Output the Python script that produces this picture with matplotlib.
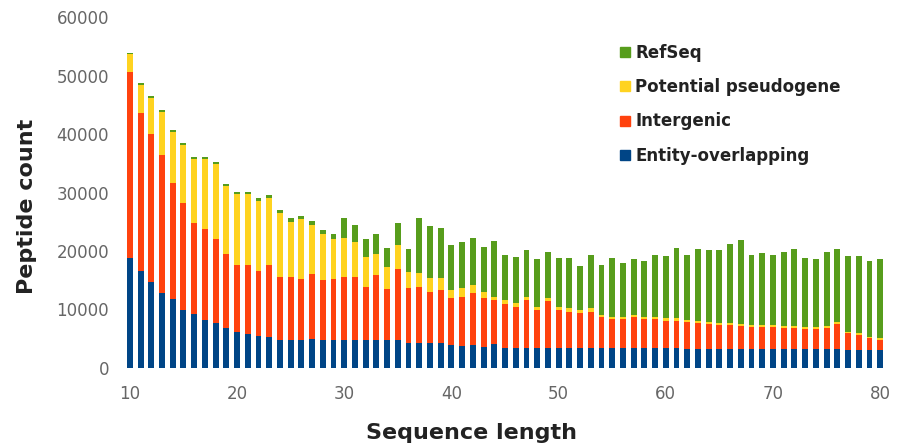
import matplotlib.pyplot as plt
from matplotlib.lines import Line2D
import numpy as np

# data
lengths = np.arange(10, 81)

entity = [18800, 16500, 14750, 12800, 11800, 9900, 9200, 8200, 7700, 6900,
          6200, 5800, 5400, 5300, 4800, 4800, 4800, 4900, 4800, 4800,
          4750, 4750, 4750, 4750, 4750, 4750, 4300, 4300, 4200, 4200,
          3900, 3750, 3900, 3650, 4100, 3350, 3350, 3350, 3350, 3350,
          3350, 3350, 3350, 3350, 3350, 3350, 3350, 3350, 3350, 3350,
          3350, 3350, 3300, 3300, 3300, 3300, 3300, 3300, 3250, 3250,
          3250, 3250, 3200, 3200, 3200, 3200, 3200, 3150, 3100, 3100,
          3100]

intergenic = [31850, 27100, 25250, 23600, 19800, 18300, 15600, 15600, 14300, 12600,
              11400, 11800, 11100, 12300, 10800, 10800, 10350, 11150, 10200, 10350,
              10850, 10850, 9150, 11150, 8700, 12250, 9300, 9600, 8850, 9100,
              8000, 8350, 8850, 8250, 7500, 7600, 7150, 8250, 6550, 8150,
              6550, 6250, 6000, 6250, 5300, 4950, 4950, 5300, 4950, 4950,
              4750, 4750, 4500, 4400, 4250, 4100, 4000, 3850, 3750, 3750,
              3750, 3650, 3700, 3550, 3550, 3700, 4400, 2750, 2500, 1950,
              1700]

pseudogene = [2950, 4800, 6200, 7400, 8800, 9900, 11000, 12000, 12900, 11600,
              12100, 12100, 12000, 11400, 10900, 9400, 10250, 8350, 7900, 6850,
              6550, 6000, 5100, 3600, 3850, 4000, 2850, 2300, 2250, 2000,
              1400, 1500, 1450, 1150, 600, 650, 550, 500, 600, 400,
              600, 600, 550, 600, 400, 450, 450, 400, 450, 450,
              400, 400, 400, 400, 350, 350, 350, 350, 350, 350,
              350, 300, 300, 300, 300, 300, 300, 300, 300, 300,
              250]

refseq = [250, 300, 300, 300, 300, 300, 300, 300, 400, 400,
          400, 400, 500, 500, 500, 600, 600, 700, 700, 900,
          3450, 2800, 3000, 3400, 3150, 3800, 3850, 9400, 9000, 8600,
          7700, 8000, 8100, 7650, 9550, 7700, 7850, 8050, 8100, 8000,
          8250, 8550, 7550, 9100, 8550, 10000, 9250, 9550, 9600, 10550,
          10600, 11950, 11100, 12200, 12250, 12400, 13550, 14400, 11950, 12250,
          11950, 12700, 13100, 11700, 11550, 12700, 12400, 12950, 13250, 13000,
          13550]

series = [('Entity-overlapping', entity, '#004586'),
          ('Intergenic', intergenic, '#ff420e'),
          ('Potential pseudogene', pseudogene, '#ffd320'),
          ('RefSeq', refseq, '#579d1c')]

fig = plt.figure(figsize=(8.97, 4.48), dpi=100)
ax = fig.add_axes([0.134, 0.1786, 0.858, 0.7834])

bottom = np.zeros(len(lengths))
for name, vals, col in series:
    ax.bar(lengths, vals, bottom=bottom, width=0.55, color=col, label=name)
    bottom += np.array(vals)

ax.set_xlim(9.1, 80.9)
ax.set_ylim(0, 60000)
ax.set_yticks(range(0, 60001, 10000))
ax.set_xticks(range(10, 81, 10))
ax.tick_params(length=0, labelsize=12, colors='#666666')
ax.tick_params(axis='y', pad=8)
ax.tick_params(axis='x', pad=12)
for s in ax.spines.values():
    s.set_visible(False)

# axis titles placed where they sit in the picture
fig.text(471 / 897, 1 - 433 / 448, 'Sequence length', fontsize=16, fontweight='bold',
         color='#222222', ha='center', va='center')
fig.text(27 / 897, 1 - 206 / 448, 'Peptide count', fontsize=16, fontweight='bold',
         color='#222222', ha='center', va='center', rotation=90)

# legend, top entry is RefSeq
handles = [Line2D([], [], marker='s', linestyle='none', markersize=7, color=col)
           for name, vals, col in series[::-1]]
labels = [name for name, vals, col in series[::-1]]
leg = fig.legend(handles, labels, loc='upper left', bbox_to_anchor=(0.671, 0.935),
                 frameon=False, handletextpad=0.1, handlelength=1.0,
                 labelspacing=0.97, prop={'size': 12, 'weight': 'bold'})
for t in leg.get_texts():
    t.set_color('#222222')

fig.savefig('out.png', dpi=100)
